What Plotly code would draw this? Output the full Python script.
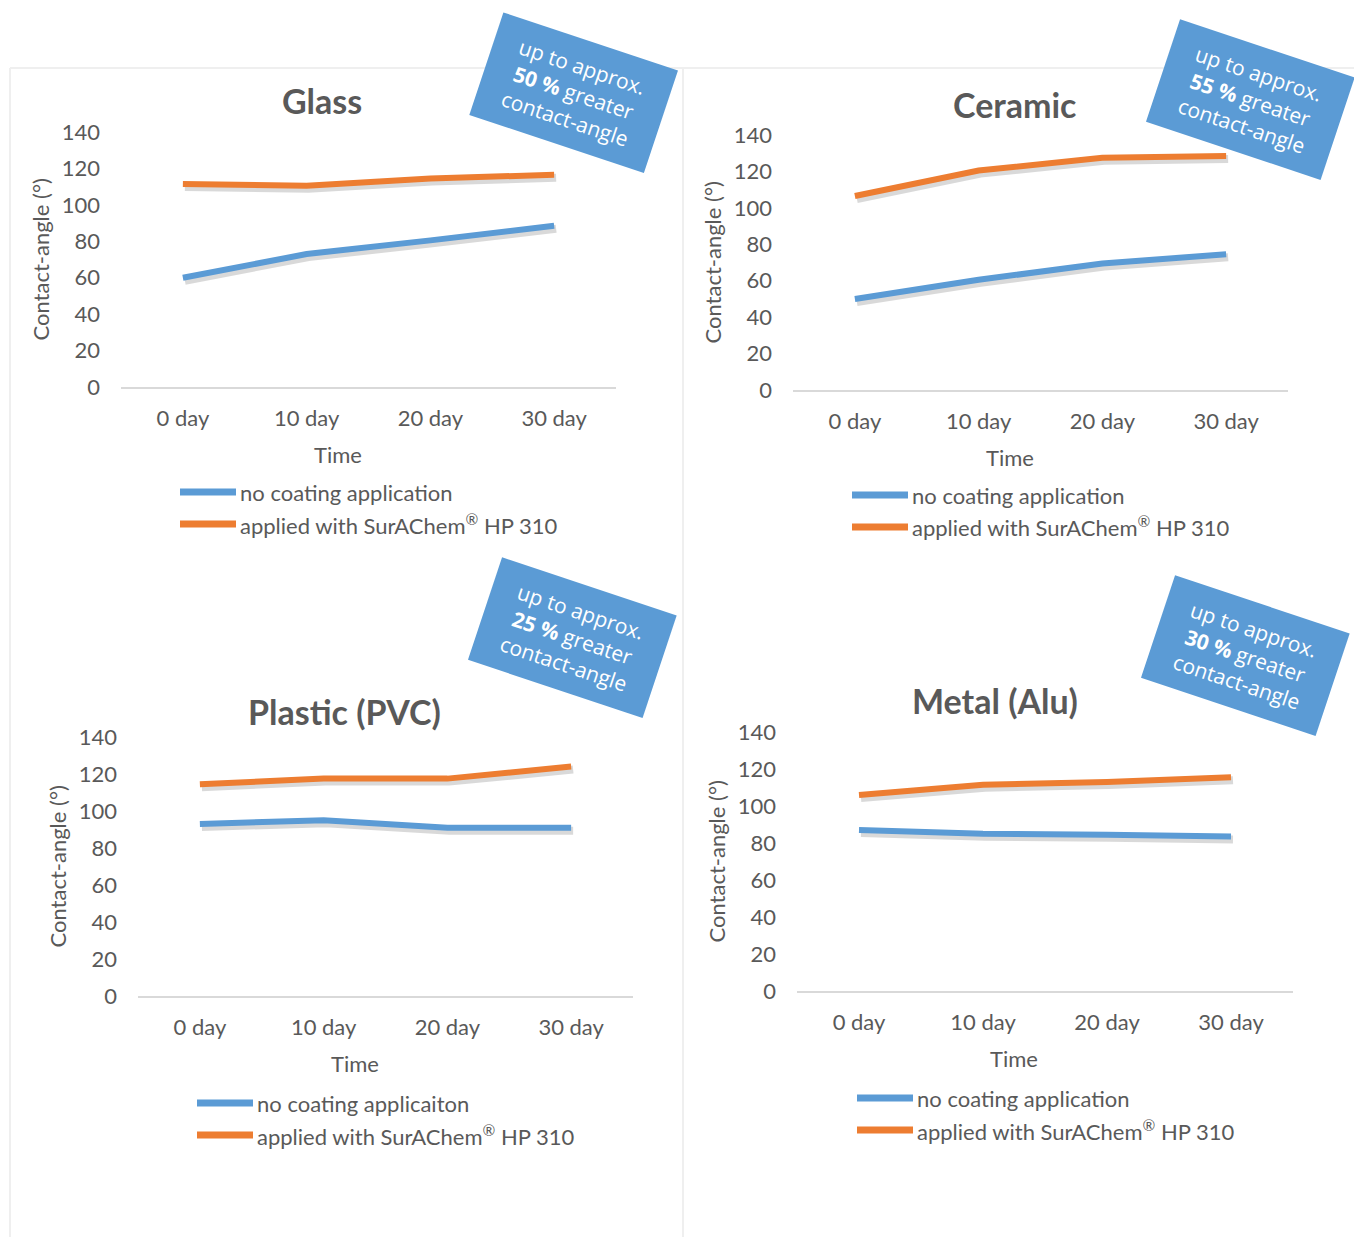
import plotly.graph_objects as go

W, H = 1354, 1237

# ---- data -------------------------------------------------------------
days = ["0 day", "10 day", "20 day", "30 day"]
y_ticks = [0, 20, 40, 60, 80, 100, 120, 140]

titles = ["Glass", "Ceramic", "Plastic (PVC)", "Metal (Alu)"]

glass_uncoated = [60, 73, 80.5, 88.5]
glass_coated = [111.5, 110.5, 114.5, 116.5]
ceramic_uncoated = [50, 60.5, 69.5, 74.5]
ceramic_coated = [106.5, 120.5, 127.5, 128.5]
plastic_uncoated = [93, 95, 91, 91]
plastic_coated = [114.5, 117.5, 117.5, 124]
metal_uncoated = [87, 85, 84.5, 83.5]
metal_coated = [106, 111.5, 113, 115.5]

uncoated_names = ["no coating application", "no coating application",
                  "no coating applicaiton", "no coating application"]
coated_name = "applied with SurAChem<sup>®</sup> HP 310"
gain_pct = ["50", "55", "25", "30"]

uncoated = [glass_uncoated, ceramic_uncoated, plastic_uncoated, metal_uncoated]
coated = [glass_coated, ceramic_coated, plastic_coated, metal_coated]

# ---- styling / layout -------------------------------------------------
BLUE = "#5B9BD5"
ORANGE = "#ED7D31"
GREY = "#595959"
FONT = "Lato"
CALLOUT_FONT = "Open Sans"
TXT = 22


def px(x):
    return x / W


def py(y):
    return 1 - y / H


# plot rectangles in page pixels: left, right, baseline (y=0), top (y=140)
plot_rects = [
    (121, 616, 387, 132),
    (793, 1288, 390, 135),
    (138, 633, 996, 737),
    (797, 1293, 991, 732),
]
title_xy = [(322, 101), (1015, 104), (344, 711), (995, 700)]
callout_xy = [(573, 93), (1250, 99), (572, 637), (1245, 655)]
legend_xy = [(180, 492), (852, 495), (197, 1103), (857, 1098)]

fig = go.Figure()
layout = dict(
    width=W, height=H, autosize=False,
    margin=dict(l=0, r=0, t=0, b=0, pad=0, autoexpand=False),
    paper_bgcolor="white",
    plot_bgcolor="rgba(0,0,0,0)",
    showlegend=False,
    font=dict(family=FONT, color=GREY, size=TXT),
)
annotations = []
shapes = []


def ax_name(kind, n):
    return f"{kind}axis" if n == 1 else f"{kind}axis{n}"


def ax_ref(kind, n):
    return kind if n == 1 else f"{kind}{n}"


# drop-shadow subplots (ids 1-4) sit a few pixels lower/right under the main ones (ids 5-8)
for i, (l, r, b, t) in enumerate(plot_rects):
    s = i + 1
    m = i + 5
    layout[ax_name("x", s)] = dict(
        domain=[px(l + 2), px(r + 2)], anchor=ax_ref("y", s), visible=False,
        automargin=False,
        type="category", categoryarray=days, range=[-0.5, 3.5], fixedrange=True)
    layout[ax_name("y", s)] = dict(
        domain=[py(b + 3), py(t + 3)], anchor=ax_ref("x", s), visible=False,
        automargin=False, range=[0, 140], fixedrange=True)
    layout[ax_name("x", m)] = dict(
        domain=[px(l), px(r)], anchor=ax_ref("y", m), automargin=False,
        type="category", categoryarray=days, range=[-0.5, 3.5],
        showline=True, linecolor="#D9D9D9", linewidth=2,
        showgrid=False, zeroline=False, ticks="",
        ticklabelstandoff=11,
        tickfont=dict(family=FONT, size=TXT, color=GREY))
    layout[ax_name("y", m)] = dict(
        domain=[py(b), py(t)], anchor=ax_ref("x", m), automargin=False,
        range=[0, 140], tickvals=y_ticks,
        showline=False, showgrid=False, zeroline=False, ticks="",
        ticklabelstandoff=20,
        tickfont=dict(family=FONT, size=TXT, color=GREY))

    for series in (uncoated[i], coated[i]):
        fig.add_trace(go.Scatter(
            x=days, y=series, mode="lines",
            line=dict(color="rgba(0,0,0,0.15)", width=8),
            xaxis=ax_ref("x", s), yaxis=ax_ref("y", s),
            hoverinfo="skip", showlegend=False))

for i, (l, r, b, t) in enumerate(plot_rects):
    m = i + 5
    fig.add_trace(go.Scatter(
        x=days, y=uncoated[i], mode="lines", name=uncoated_names[i],
        line=dict(color=BLUE, width=6),
        xaxis=ax_ref("x", m), yaxis=ax_ref("y", m), showlegend=False))
    fig.add_trace(go.Scatter(
        x=days, y=coated[i], mode="lines", name=coated_name,
        line=dict(color=ORANGE, width=6),
        xaxis=ax_ref("x", m), yaxis=ax_ref("y", m), showlegend=False))

    # chart title
    tx, ty = title_xy[i]
    annotations.append(dict(
        x=px(tx), y=py(ty), xref="paper", yref="paper", showarrow=False,
        xanchor="center", yanchor="middle", text=f"<b>{titles[i]}</b>",
        font=dict(family=FONT, size=34, color=GREY)))

    # axis titles
    annotations.append(dict(
        x=px(l - 81), y=py((b + t) / 2), xref="paper", yref="paper",
        showarrow=False, xanchor="center", yanchor="middle", textangle=-90,
        text="Contact-angle (°)", font=dict(family=FONT, size=TXT, color=GREY)))
    annotations.append(dict(
        x=px((l + r) / 2 - 31), y=py(b + 67), xref="paper", yref="paper",
        showarrow=False, xanchor="center", yanchor="middle",
        text="Time", font=dict(family=FONT, size=TXT, color=GREY)))

    # legend: swatch + label
    lx, ly = legend_xy[i]
    for k, (name, col) in enumerate([(uncoated_names[i], BLUE), (coated_name, ORANGE)]):
        yy = ly + 32 * k
        shapes.append(dict(
            type="line", xref="paper", yref="paper",
            x0=px(lx), x1=px(lx + 56), y0=py(yy), y1=py(yy),
            line=dict(color=col, width=7)))
        annotations.append(dict(
            x=px(lx + 58), y=py(yy), xref="paper", yref="paper",
            showarrow=False, xanchor="left", yanchor="middle",
            text=name, font=dict(family=FONT, size=TXT, color=GREY)))

    # tilted call-out box
    cx, cy = callout_xy[i]
    annotations.append(dict(
        x=px(cx), y=py(cy), xref="paper", yref="paper", showarrow=False,
        xanchor="center", yanchor="middle", align="center",
        text=f"up to approx.<br><b>{gain_pct[i]} %</b> greater<br>contact-angle",
        font=dict(family=CALLOUT_FONT, size=21, color="white"),
        bgcolor=BLUE, width=183, height=107, borderpad=0, textangle=18.4))

# faint panel frames
frame = dict(color="#EFEFEF", width=2)
shapes += [
    dict(type="line", xref="paper", yref="paper", layer="below",
         x0=px(10), x1=1, y0=py(68), y1=py(68), line=frame),
    dict(type="line", xref="paper", yref="paper", layer="below",
         x0=px(10), x1=px(10), y0=py(68), y1=0, line=frame),
    dict(type="line", xref="paper", yref="paper", layer="below",
         x0=px(683), x1=px(683), y0=py(68), y1=0, line=frame),
]

layout["annotations"] = annotations
layout["shapes"] = shapes
fig.update_layout(**layout)

fig.write_html("out.html")
